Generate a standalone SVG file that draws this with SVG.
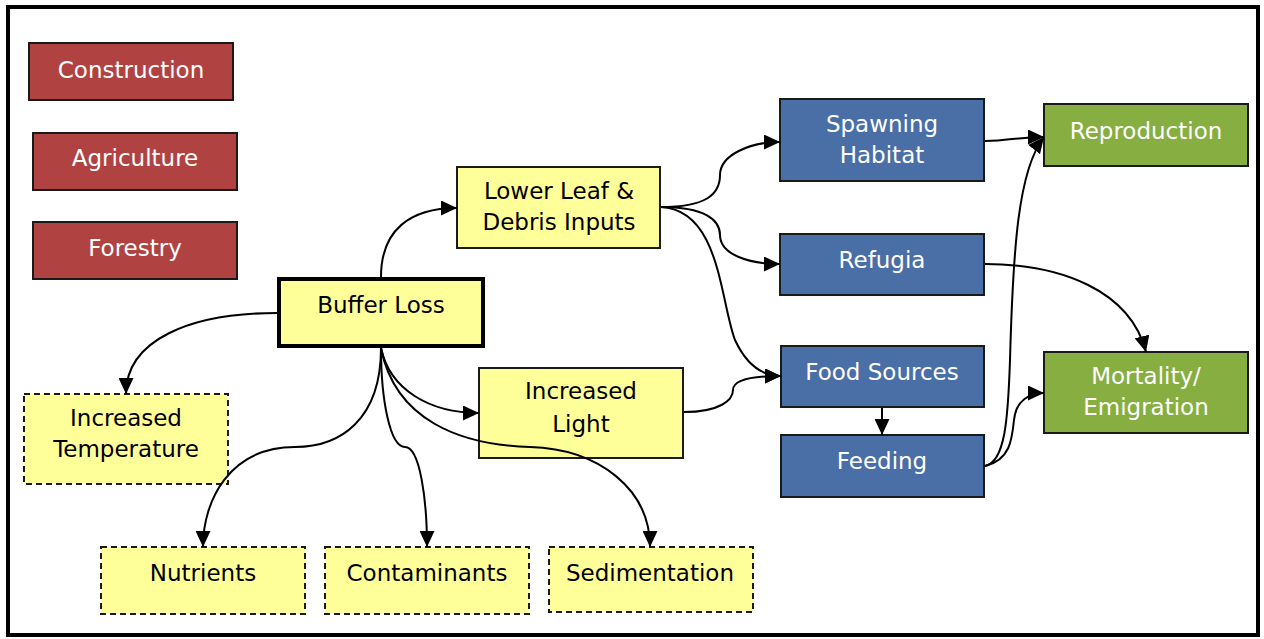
<svg xmlns="http://www.w3.org/2000/svg" width="1264" height="639" viewBox="0 0 1264 639">
<defs>
<marker id="ah" viewBox="0 0 16 15" refX="16" refY="7.5" markerWidth="16" markerHeight="15" markerUnits="userSpaceOnUse" orient="auto">
<path d="M0,0 L16,7.5 L0,15 Z" fill="#000"/>
</marker>
</defs>
<style>
.t{font-family:"DejaVu Sans","Liberation Sans",sans-serif;font-size:23px;text-anchor:middle}
.w{fill:#fff}
.k{fill:#000}
.red{fill:#B14242;stroke:#1a1a1a;stroke-width:2}
.blue{fill:#4A6EA6;stroke:#1a1a1a;stroke-width:2}
.green{fill:#86AE40;stroke:#1a1a1a;stroke-width:2}
.yel{fill:#FFFF99;stroke:#1a1a1a;stroke-width:2}
.dash{fill:#FFFF99;stroke:#1a1a1a;stroke-width:2;stroke-dasharray:6,4}
.c{fill:none;stroke:#000;stroke-width:2;marker-end:url(#ah)}
</style>
<rect x="0" y="0" width="1264" height="639" fill="#fff"/>
<rect x="8" y="7" width="1250" height="628" fill="#fff" stroke="#000" stroke-width="4"/>
<g id="construction"><rect class="red" x="29" y="43" width="204" height="57"/><text class="t w" x="131" y="78">Construction</text></g>
<g id="agriculture"><rect class="red" x="33" y="133" width="204" height="57"/><text class="t w" x="135" y="166">Agriculture</text></g>
<g id="forestry"><rect class="red" x="33" y="222" width="204" height="57"/><text class="t w" x="135" y="256">Forestry</text></g>
<g id="buffer-loss"><rect x="279" y="279" width="204" height="67" fill="#FFFF99" stroke="#000" stroke-width="4"/><text class="t k" x="381" y="313">Buffer Loss</text></g>
<g id="lower-leaf"><rect class="yel" x="457" y="167" width="203" height="81"/><text class="t k" x="559" y="199">Lower Leaf &amp;</text><text class="t k" x="559" y="230">Debris Inputs</text></g>
<g id="increased-light"><rect class="yel" x="479" y="368" width="204" height="90"/><text class="t k" x="581" y="399">Increased</text><text class="t k" x="581" y="432">Light</text></g>
<g id="increased-temperature"><rect class="dash" x="24" y="394" width="204" height="90"/><text class="t k" x="126" y="426">Increased</text><text class="t k" x="126" y="457">Temperature</text></g>
<g id="nutrients"><rect class="dash" x="101" y="547" width="204" height="67"/><text class="t k" x="203" y="581">Nutrients</text></g>
<g id="contaminants"><rect class="dash" x="325" y="547" width="204" height="67"/><text class="t k" x="427" y="581">Contaminants</text></g>
<g id="sedimentation"><rect class="dash" x="549" y="547" width="204" height="65"/><text class="t k" x="650" y="581">Sedimentation</text></g>
<g id="spawning-habitat"><rect class="blue" x="780" y="99" width="204" height="82"/><text class="t w" x="882" y="132">Spawning</text><text class="t w" x="882" y="163">Habitat</text></g>
<g id="refugia"><rect class="blue" x="780" y="234" width="204" height="61"/><text class="t w" x="882" y="268">Refugia</text></g>
<g id="food-sources"><rect class="blue" x="781" y="346" width="203" height="61"/><text class="t w" x="882" y="380">Food Sources</text></g>
<g id="feeding"><rect class="blue" x="781" y="435" width="203" height="62"/><text class="t w" x="882" y="469">Feeding</text></g>
<g id="reproduction"><rect class="green" x="1044" y="104" width="204" height="62"/><text class="t w" x="1146" y="139">Reproduction</text></g>
<g id="mortality"><rect class="green" x="1044" y="352" width="204" height="81"/><text class="t w" x="1146" y="384">Mortality/</text><text class="t w" x="1146" y="415">Emigration</text></g>
<g id="connectors">
<path class="c" d="M381,277 C381,230 410,208 457,208"/>
<path class="c" d="M277,313 C190,313 126,340 126,394"/>
<path class="c" d="M381,348 C381,420 340,447 295,447 C230,447 203,500 203,547"/>
<path class="c" d="M381,348 C381,400 390,447 405,447 C420,447 427,500 427,547"/>
<path class="c" d="M381,348 C395,420 460,445 530,447 C600,449 650,490 650,547"/>
<path class="c" d="M381,348 C390,390 430,413 479,413"/>
<path class="c" d="M661,207 C705,207 720,195 720,175 C720,155 750,142 780,142"/>
<path class="c" d="M661,207 C705,207 720,220 720,235 C720,255 750,264 780,264"/>
<path class="c" d="M661,207 C720,210 720,300 735,340 C748,368 765,376 781,376"/>
<path class="c" d="M684,412 C720,412 733,400 733,390 C733,378 760,376 781,376"/>
<path class="c" d="M882,408 L882,435"/>
<path class="c" d="M985,141 C1010,141 1015,137 1044,137"/>
<path class="c" d="M985,466 C1005,462 1008,420 1010,360 C1013,250 1018,170 1044,137"/>
<path class="c" d="M985,466 C1010,460 1012,440 1014,420 C1016,400 1030,393 1044,393"/>
<path class="c" d="M985,264 C1060,264 1130,290 1146,352"/>
</g>
</svg>
